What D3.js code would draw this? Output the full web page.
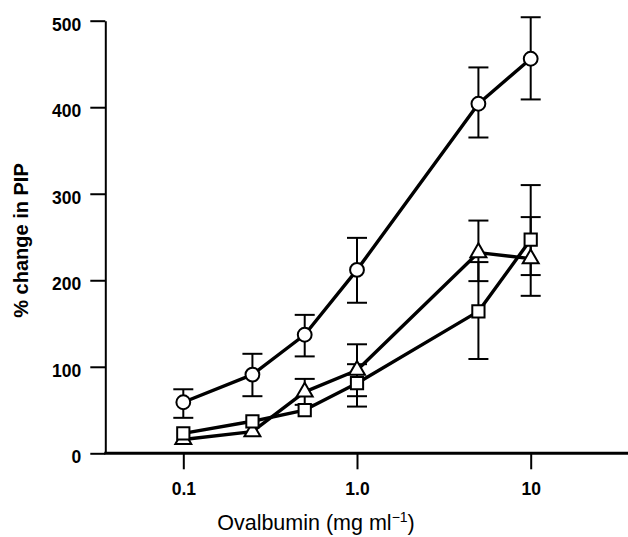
<!DOCTYPE html>
<html>
<head>
<meta charset="utf-8">
<script src="https://cdn.jsdelivr.net/npm/d3@7"></script>
<style>
  html, body { margin: 0; padding: 0; background: #fff; }
  svg { display: block; }
  text { font-family: "Liberation Sans", Arial, Helvetica, sans-serif; fill: #000; }
</style>
</head>
<body>
<svg id="chart" width="628" height="537"></svg>
<script>
// ---- data ----
const doses = [0.1, 0.25, 0.5, 1, 5, 10];
const xTickValues = [0.1, 1, 10];
const xTickLabels = ["0.1", "1.0", "10"];
const yTickValues = [0, 100, 200, 300, 400, 500];

// circle series
const circleMean  = [59, 91, 137, 212, 404, 456];
const circleUpper = [74, 115, 160, 249, 446, 504];
const circleLower = [41, 66, 112, 174, 365, 409];

// triangle series
const triMean  = [16, 25, 71, 96, 232, 225];
const triUpper = [16, 25, 86, 126, 269, 273];
const triLower = [16, 25, 56, 66, 199, 182];

// square series
const sqMean  = [23, 37, 50, 81, 164, 247];
const sqUpper = [23, 37, 50, 103, 221, 310];
const sqLower = [23, 37, 50, 54, 109, 206];

const xTitle = "Ovalbumin (mg ml";
const xTitleSup = "\u22121";
const yTitle = "% change in PIP";

// ---- layout ----
const svg = d3.select("#chart");
const axisX0 = 105.3;
const x = d3.scaleLog().domain([0.1, 10]).range([183.3, 530.7]);
const y = d3.scaleLinear().domain([0, 500]).range([453.3, 20.7]);

// y axis
const yAxis = d3.axisLeft(y).tickValues(yTickValues).tickFormat(d3.format("d"))
  .tickSize(15).tickSizeOuter(0).tickPadding(9);
const gy = svg.append("g").attr("transform", `translate(${axisX0},0)`).call(yAxis);
gy.select(".domain").attr("stroke", "#000").attr("stroke-width", 2);
gy.selectAll(".tick line").attr("stroke", "#000").attr("stroke-width", 2);
gy.selectAll(".tick text").attr("dy", "0.55em")
  .style("font-size", "17.5px").style("font-weight", "bold");

// x axis
const xAxis = d3.axisBottom(x).tickValues(xTickValues)
  .tickFormat((d, i) => xTickLabels[i]).tickSize(16).tickSizeOuter(0);
const gx = svg.append("g").attr("transform", `translate(0,${y(0)})`).call(xAxis);
gx.select(".domain").remove();
gx.selectAll(".tick line").attr("stroke", "#000").attr("stroke-width", 2);
gx.selectAll(".tick text").attr("y", 41.7).attr("dy", 0)
  .style("font-size", "17.5px").style("font-weight", "bold");
svg.append("line")
  .attr("x1", axisX0 - 1).attr("x2", 628)
  .attr("y1", y(0)).attr("y2", y(0))
  .attr("stroke", "#000").attr("stroke-width", 3);

// titles
svg.append("text")
  .attr("transform", `translate(27.5,${240.5}) rotate(-90)`)
  .attr("text-anchor", "middle")
  .style("font-size", "20px").style("font-weight", "bold")
  .text(yTitle);

const xt = svg.append("text")
  .attr("x", 316).attr("y", 530)
  .attr("text-anchor", "middle")
  .style("font-size", "21.5px");
xt.append("tspan").text(xTitle);
xt.append("tspan").attr("dy", -8).style("font-size", "14px").text(xTitleSup);
xt.append("tspan").attr("dy", 8).text(")");

// ---- series ----
const series = [
  { name: "triangle", mean: triMean, upper: triUpper, lower: triLower },
  { name: "square", mean: sqMean, upper: sqUpper, lower: sqLower },
  { name: "circle", mean: circleMean, upper: circleUpper, lower: circleLower }
];

const line = d3.line().x(d => x(d.dose)).y(d => y(d.v));
const capHalf = 10;

series.forEach(s => {
  const pts = doses.map((d, i) => ({ dose: d, v: s.mean[i], hi: s.upper[i], lo: s.lower[i] }));
  s.pts = pts;
  svg.append("path").datum(pts).attr("d", line)
    .attr("fill", "none").attr("stroke", "#000").attr("stroke-width", 3.4)
    .attr("stroke-linejoin", "round");
});

series.forEach(s => {
  const eb = svg.append("g").attr("stroke", "#000").attr("stroke-width", 2);
  s.pts.filter(p => p.hi !== p.lo).forEach(p => {
    eb.append("line").attr("x1", x(p.dose)).attr("x2", x(p.dose))
      .attr("y1", y(p.hi)).attr("y2", y(p.lo));
    if (p.hi > p.v) eb.append("line").attr("x1", x(p.dose) - capHalf).attr("x2", x(p.dose) + capHalf)
      .attr("y1", y(p.hi)).attr("y2", y(p.hi));
    if (p.lo < p.v) eb.append("line").attr("x1", x(p.dose) - capHalf).attr("x2", x(p.dose) + capHalf)
      .attr("y1", y(p.lo)).attr("y2", y(p.lo));
  });
});

const symSize = { circle: 150, square: 150, triangle: 110 };
const symType = { circle: d3.symbolCircle, square: d3.symbolSquare, triangle: d3.symbolTriangle };
series.forEach(s => {
  const sym = d3.symbol().type(symType[s.name]).size(symSize[s.name]);
  svg.append("g").selectAll("path").data(s.pts).join("path")
    .attr("d", sym)
    .attr("transform", p => `translate(${x(p.dose)},${y(p.v)})`)
    .attr("fill", "#fff").attr("stroke", "#000").attr("stroke-width", 2);
});
</script>
</body>
</html>
